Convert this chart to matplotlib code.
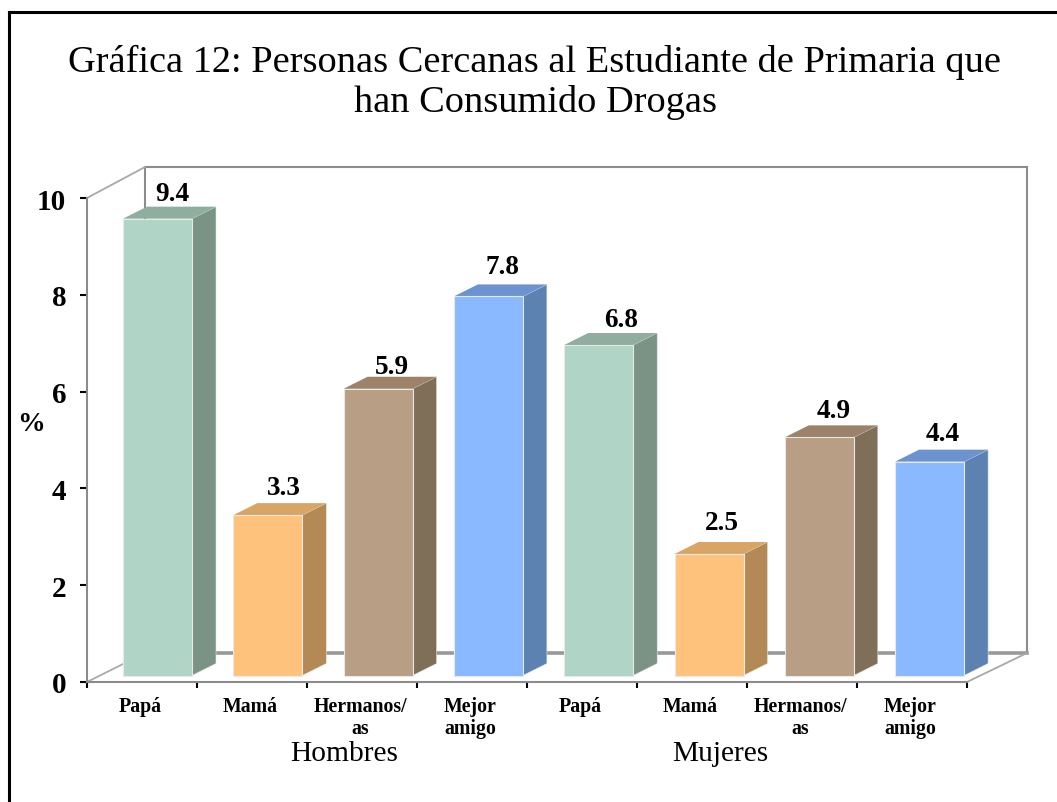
import matplotlib
matplotlib.use("Agg")
import matplotlib.pyplot as plt
from matplotlib.lines import Line2D
from matplotlib.patches import Polygon

categories = ["Papá", "Mamá", "Hermanos/\nas", "Mejor\namigo", "Papá", "Mamá", "Hermanos/\nas", "Mejor\namigo"]
values = [9.4, 3.3, 5.9, 7.8, 6.8, 2.5, 4.9, 4.4]
groups = ["Hombres", "Mujeres"]
y_ticks = [0, 2, 4, 6, 8, 10]
front = ["#B0D4C5", "#FFC27D", "#B89E84", "#8AB9FF"] * 2
side = ["#7B9385", "#B38A55", "#7F6E58", "#5C82B2"] * 2
top = ["#8FAE9F", "#D9A566", "#9B8268", "#6C93CF"] * 2
label_dx = [15, 16, 14, 14, 22, 13, 14, 13]
label_dy = [25, 28, 22, 30, 26, 31, 27, 28]

W, H = 1057, 803
plt.rcParams["font.family"] = ["Liberation Serif", "DejaVu Serif"]
fig = plt.figure(figsize=(W / 100, H / 100), dpi=100, facecolor="white")
L, R, T, B = 87, 967, 199, 683
ax = fig.add_axes([L / W, 1 - B / H, (R - L) / W, (B - T) / H])
ax.set_xlim(0, 8)
ax.set_ylim(0, 10)
ax.patch.set_visible(False)
px = 8 / (R - L)
py = 10 / (B - T)
gray = "#8c8c8c"

# 3D box
wx, wy = 58 * px, 29 * py
rx = 60 * px
ax.plot([wx, wx], [wy, 10 + 31 * py], color=gray, lw=1.5, clip_on=False, zorder=1)
ax.plot([wx, 8 + rx], [10 + 31 * py] * 2, color=gray, lw=1.5, clip_on=False, zorder=1)
ax.plot([8 + rx, 8 + rx], [wy, 10 + 31 * py], color=gray, lw=1.5, clip_on=False, zorder=1)
ax.plot([wx, 8 + rx], [wy, wy], color="#999999", lw=2.6, clip_on=False, zorder=1)
ax.plot([0, wx], [0, wy], color="#a8a8a8", lw=1.3, clip_on=False, zorder=1)
ax.plot([8, 8 + rx], [0, wy], color="#a8a8a8", lw=1.3, clip_on=False, zorder=1)
ax.plot([0, wx], [10, 10 + 31 * py], color="#a8a8a8", lw=1.3, clip_on=False, zorder=1)

# bars
bar_w = 69 * px
base = 6.5 * py
scale = 48.6 / 48.4
dx, dy = 24 * px, 12 * py
step = 110.3 / 110
for i, v in enumerate(values):
    x0 = i * step + 36 * px
    h = v * scale
    y1 = base + h
    ax.add_patch(Polygon([(x0 + bar_w, base), (x0 + bar_w + dx, base + dy), (x0 + bar_w + dx, y1 + dy), (x0 + bar_w, y1)],
                         closed=True, fc=side[i], ec="#e2e6e2", lw=0.4, clip_on=False, zorder=3))
    ax.add_patch(Polygon([(x0, y1), (x0 + dx, y1 + dy), (x0 + bar_w + dx, y1 + dy), (x0 + bar_w, y1)],
                         closed=True, fc=top[i], ec="none", clip_on=False, zorder=3))
    ax.bar(x0, h, width=bar_w, bottom=base, align="edge", color=front[i], edgecolor="#e6eae6", linewidth=0.8, zorder=4, clip_on=False)
    ax.annotate(f"{v:.1f}", xy=(x0 + bar_w / 2, y1), xytext=(label_dx[i] * 0.72, label_dy[i] * 0.72),
                textcoords="offset points", ha="center", va="center", fontsize=19.5, fontweight="bold", color="black", zorder=5)

# axes
for s in ["top", "right"]:
    ax.spines[s].set_visible(False)
for s in ["left", "bottom"]:
    ax.spines[s].set_color(gray)
    ax.spines[s].set_linewidth(1.5)
ax.set_yticks(y_ticks)
ax.set_yticklabels([str(t) for t in y_ticks], fontsize=21, fontweight="bold")
ax.tick_params(axis="y", length=5, width=1.5, color="black", pad=10)
ax.set_xticks([i + 0.5 - 1.5 * px for i in range(8)])
ax.set_xticklabels(categories, fontsize=14.3, fontweight="bold", linespacing=1.15)
ax.set_xticks(range(9), minor=True)
ax.tick_params(axis="x", which="major", length=0, pad=10)
ax.tick_params(axis="x", which="minor", length=4, width=1.5, color="black", direction="out")

fig.text(31 / W, 1 - 425 / H, "%", fontsize=20, fontweight="bold", ha="center", va="center")
fig.text(344 / W, 1 - 754 / H, groups[0], fontsize=21.2, ha="center", va="center")
fig.text(720 / W, 1 - 754 / H, groups[1], fontsize=21.2, ha="center", va="center")
fig.text(535 / W, 1 - 82 / H, "Gráfica 12: Personas Cercanas al Estudiante de Primaria que\nhan Consumido Drogas",
         fontsize=27.6, ha="center", va="center", linespacing=1.18)

# outer frame
fig.add_artist(Line2D([9 / W, 9 / W], [0, 1 - 13 / H], color="black", lw=2.2))
fig.add_artist(Line2D([9 / W, 1], [1 - 13 / H, 1 - 13 / H], color="black", lw=2.2))

fig.savefig("out.png", dpi=100, facecolor="white")
